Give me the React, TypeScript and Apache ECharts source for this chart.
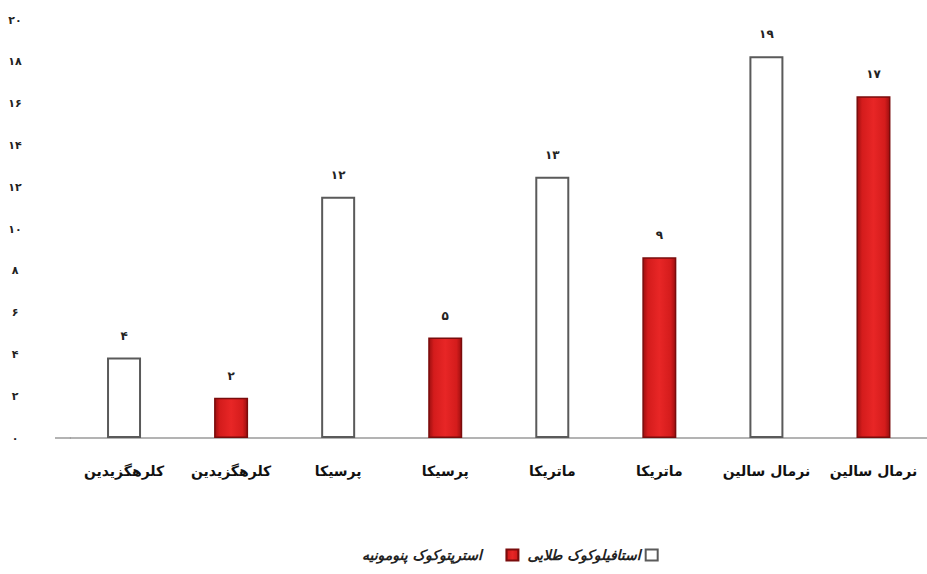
import React, { useEffect, useRef } from "react";
import * as echarts from "echarts";

const categories = [
  "کلرهگزیدین",
  "کلرهگزیدین",
  "پرسیکا",
  "پرسیکا",
  "ماتریکا",
  "ماتریکا",
  "نرمال سالین",
  "نرمال سالین",
];
const staphValues: (number | null)[] = [4, null, 12, null, 13, null, 19, null];
const strepValues: (number | null)[] = [null, 2, null, 5, null, 9, null, 17];
const staphName = "استافیلوکوک طلایی";
const strepName = "استرپتوکوک پنومونیه";

const fa = (v: number | string) =>
  String(v).replace(/\d/g, (d) => "۰۱۲۳۴۵۶۷۸۹"[Number(d)]);

export default function App() {
  const ref = useRef<HTMLDivElement>(null);
  useEffect(() => {
    if (!ref.current) return;
    const chart = echarts.init(ref.current, null, { renderer: "svg" });
    const font = "DejaVu Sans";
    const toData = (arr: (number | null)[]) => arr.map((v) => (v == null ? "-" : v));
    const labelStyle = {
      show: true,
      position: "top",
      distance: 16,
      fontFamily: font,
      fontSize: 12,
      fontWeight: "bold",
      color: "#222",
      formatter: (p: any) => fa(p.value),
    };
    chart.setOption({
      animation: false,
      backgroundColor: "#ffffff",
      grid: { left: 70.5, right: -15.5, top: 20, bottom: 136, containLabel: false },
      legend: {
        top: 543,
        left: 357,
        align: "right",
        icon: "rect",
        itemWidth: 12,
        itemHeight: 11,
        itemGap: 8,
        data: [strepName, staphName],
        formatter: (name: string) => (name === strepName ? name + "\u00a0\u00a0\u00a0\u00a0" : name),
        textStyle: {
          fontFamily: font,
          fontSize: 14,
          fontWeight: "bold",
          fontStyle: "italic",
          color: "#222",
        },
      },
      graphic: [
        {
          type: "line",
          shape: { x1: 55, y1: 438, x2: 71, y2: 438 },
          style: { stroke: "#9a9a9a", lineWidth: 1.5 },
        },
      ],
      xAxis: {
        type: "category",
        data: categories,
        axisLine: { lineStyle: { color: "#9a9a9a", width: 1.5 } },
        axisTick: { show: false },
        axisLabel: {
          interval: 0,
          margin: 26,
          fontFamily: font,
          fontSize: 14,
          fontWeight: "bold",
          color: "#111",
        },
      },
      yAxis: [
        {
          type: "value",
          min: 0,
          max: 20,
          interval: 2,
          splitLine: { show: false },
          axisLine: { show: false },
          axisTick: { show: false },
          axisLabel: {
            margin: 55.5,
            align: "center",
            fontFamily: font,
            fontSize: 11,
            fontWeight: "bold",
            color: "#222",
            formatter: (v: number) => fa(v),
          },
        },
        { type: "value", min: 0, max: 20.8, show: false },
      ],
      series: [
        {
          name: strepName,
          type: "bar",
          stack: "all",
          yAxisIndex: 1,
          barWidth: 34,
          data: toData(strepValues),
          itemStyle: {
            color: new echarts.graphic.LinearGradient(0, 0, 1, 0, [
              { offset: 0, color: "#9e0f10" },
              { offset: 0.15, color: "#d41c1c" },
              { offset: 0.5, color: "#e82626" },
              { offset: 0.85, color: "#d41c1c" },
              { offset: 1, color: "#9e0f10" },
            ]),
            borderColor: "#7a0c0c",
            borderWidth: 1.5,
          },
          label: labelStyle,
        },
        {
          name: staphName,
          type: "bar",
          stack: "all",
          yAxisIndex: 1,
          barWidth: 34,
          data: toData(staphValues),
          itemStyle: {
            color: "#ffffff",
            borderColor: "#5a5a5a",
            borderWidth: 2,
          },
          label: labelStyle,
        },
      ],
    });
    return () => chart.dispose();
  }, []);
  return (
    <div
      ref={ref}
      style={{ position: "absolute", left: 0, top: 0, width: 927, height: 574 }}
    />
  );
}
